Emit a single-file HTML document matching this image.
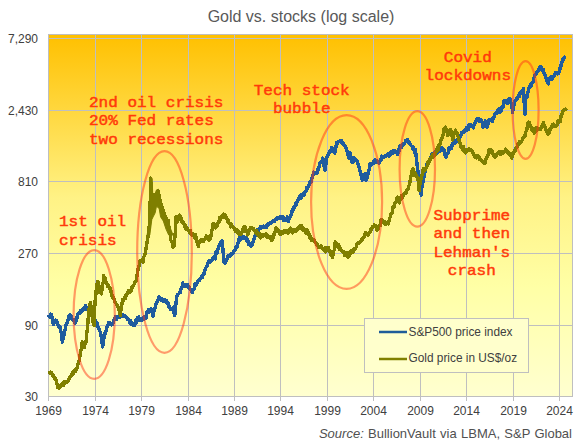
<!DOCTYPE html>
<html><head><meta charset="utf-8"><style>html,body{margin:0;padding:0;background:#fff;width:579px;height:444px;overflow:hidden;position:relative}</style></head>
<body><svg width="579" height="444" viewBox="0 0 579 444" style="position:absolute;left:0;top:0">
<defs><linearGradient id="bg" x1="0" y1="0" x2="0" y2="1">
<stop offset="0" stop-color="#FFC000"/>
<stop offset="0.45" stop-color="#FFF285"/>
<stop offset="0.7" stop-color="#FFFFA6"/>
<stop offset="1" stop-color="#FFFFD0"/>
</linearGradient></defs>
<rect x="48.5" y="34.5" width="524" height="362" fill="url(#bg)" stroke="#BFBFBF" stroke-width="1"/>
<line x1="48" y1="38.5" x2="572" y2="38.5" stroke="#BFBFBF" stroke-width="1"/>
<line x1="48" y1="110.5" x2="572" y2="110.5" stroke="#BFBFBF" stroke-width="1"/>
<line x1="48" y1="181.5" x2="572" y2="181.5" stroke="#BFBFBF" stroke-width="1"/>
<line x1="48" y1="253.5" x2="572" y2="253.5" stroke="#BFBFBF" stroke-width="1"/>
<line x1="48" y1="325.5" x2="572" y2="325.5" stroke="#BFBFBF" stroke-width="1"/>
<line x1="95.5" y1="34" x2="95.5" y2="396" stroke="#BFBFBF" stroke-width="1"/>
<line x1="141.5" y1="34" x2="141.5" y2="396" stroke="#BFBFBF" stroke-width="1"/>
<line x1="188.5" y1="34" x2="188.5" y2="396" stroke="#BFBFBF" stroke-width="1"/>
<line x1="234.5" y1="34" x2="234.5" y2="396" stroke="#BFBFBF" stroke-width="1"/>
<line x1="280.5" y1="34" x2="280.5" y2="396" stroke="#BFBFBF" stroke-width="1"/>
<line x1="327.5" y1="34" x2="327.5" y2="396" stroke="#BFBFBF" stroke-width="1"/>
<line x1="373.5" y1="34" x2="373.5" y2="396" stroke="#BFBFBF" stroke-width="1"/>
<line x1="420.5" y1="34" x2="420.5" y2="396" stroke="#BFBFBF" stroke-width="1"/>
<line x1="466.5" y1="34" x2="466.5" y2="396" stroke="#BFBFBF" stroke-width="1"/>
<line x1="513.5" y1="34" x2="513.5" y2="396" stroke="#BFBFBF" stroke-width="1"/>
<line x1="559.5" y1="34" x2="559.5" y2="396" stroke="#BFBFBF" stroke-width="1"/>
<line x1="48.5" y1="396" x2="48.5" y2="401" stroke="#BFBFBF" stroke-width="1"/>
<line x1="95.5" y1="396" x2="95.5" y2="401" stroke="#BFBFBF" stroke-width="1"/>
<line x1="141.5" y1="396" x2="141.5" y2="401" stroke="#BFBFBF" stroke-width="1"/>
<line x1="188.5" y1="396" x2="188.5" y2="401" stroke="#BFBFBF" stroke-width="1"/>
<line x1="234.5" y1="396" x2="234.5" y2="401" stroke="#BFBFBF" stroke-width="1"/>
<line x1="280.5" y1="396" x2="280.5" y2="401" stroke="#BFBFBF" stroke-width="1"/>
<line x1="327.5" y1="396" x2="327.5" y2="401" stroke="#BFBFBF" stroke-width="1"/>
<line x1="373.5" y1="396" x2="373.5" y2="401" stroke="#BFBFBF" stroke-width="1"/>
<line x1="420.5" y1="396" x2="420.5" y2="401" stroke="#BFBFBF" stroke-width="1"/>
<line x1="466.5" y1="396" x2="466.5" y2="401" stroke="#BFBFBF" stroke-width="1"/>
<line x1="513.5" y1="396" x2="513.5" y2="401" stroke="#BFBFBF" stroke-width="1"/>
<line x1="559.5" y1="396" x2="559.5" y2="401" stroke="#BFBFBF" stroke-width="1"/>
<g font-family="Liberation Sans" font-size="12" fill="#404040">
<text x="38" y="42.5" text-anchor="end">7,290</text>
<text x="38" y="114.5" text-anchor="end">2,430</text>
<text x="38" y="185.5" text-anchor="end">810</text>
<text x="38" y="257.5" text-anchor="end">270</text>
<text x="38" y="329.5" text-anchor="end">90</text>
<text x="38" y="400.5" text-anchor="end">30</text>
<text x="48.5" y="415" text-anchor="middle">1969</text>
<text x="95.5" y="415" text-anchor="middle">1974</text>
<text x="141.5" y="415" text-anchor="middle">1979</text>
<text x="188.5" y="415" text-anchor="middle">1984</text>
<text x="234.5" y="415" text-anchor="middle">1989</text>
<text x="280.5" y="415" text-anchor="middle">1994</text>
<text x="327.5" y="415" text-anchor="middle">1999</text>
<text x="373.5" y="415" text-anchor="middle">2004</text>
<text x="420.5" y="415" text-anchor="middle">2009</text>
<text x="466.5" y="415" text-anchor="middle">2014</text>
<text x="513.5" y="415" text-anchor="middle">2019</text>
<text x="559.5" y="415" text-anchor="middle">2024</text>
</g>
<text x="301" y="21.5" font-family="Liberation Sans" font-size="16" fill="#595959" text-anchor="middle">Gold vs. stocks (log scale)</text>
<text x="572" y="438" font-family="Liberation Sans" font-size="13" word-spacing="0.7" fill="#505050" text-anchor="end"><tspan font-style="italic">Source:</tspan> BullionVault via LBMA, S&amp;P Global</text>
<path d="M48.0,317.3 L48.8,316.5 L49.7,317.1 L50.5,314.1 L51.6,314.9 L52.5,318.8 L53.3,324.7 L54.0,321.7 L54.7,322.3 L55.4,320.1 L56.1,320.3 L56.9,321.0 L57.6,324.1 L58.4,325.4 L59.1,327.1 L59.9,326.8 L60.6,329.3 L61.5,335.0 L62.3,342.2 L63.1,338.2 L63.8,335.6 L64.6,330.6 L65.3,329.6 L66.0,324.6 L66.7,324.5 L67.4,321.3 L68.3,319.3 L69.3,315.3 L70.2,314.9 L71.1,315.6 L72.1,319.1 L73.0,320.3 L73.7,320.9 L74.5,319.6 L75.2,323.4 L75.9,321.6 L76.7,320.3 L77.5,313.9 L78.0,313.7 L78.8,312.7 L79.7,313.0 L80.6,310.6 L81.4,311.8 L82.2,309.2 L83.0,310.3 L83.9,307.8 L84.7,309.2 L85.5,305.7 L86.3,308.3 L87.2,307.4 L88.0,310.6 L88.8,310.4 L89.6,313.3 L90.4,311.0 L91.2,312.6 L92.0,311.9 L92.8,315.0 L93.7,315.4 L94.6,319.6 L95.4,320.2 L96.2,322.8 L97.1,323.2 L98.0,326.8 L98.8,328.1 L99.7,330.9 L100.5,332.2 L101.2,337.0 L101.9,341.1 L102.6,347.1 L103.6,339.1 L104.6,335.4 L105.4,331.6 L106.1,330.6 L106.9,327.2 L107.8,326.2 L108.7,322.2 L109.6,322.3 L110.5,323.2 L111.4,324.8 L112.3,324.4 L113.2,323.2 L114.1,319.8 L115.0,318.2 L115.8,316.4 L116.6,319.3 L117.5,317.0 L118.3,317.0 L119.1,316.0 L119.9,317.1 L120.7,315.7 L121.5,316.3 L122.3,314.9 L123.1,316.7 L123.9,315.1 L124.7,316.5 L125.6,316.3 L126.4,318.0 L127.2,318.2 L128.0,319.8 L128.8,319.6 L129.6,322.2 L130.4,320.5 L131.2,324.3 L132.1,322.6 L133.0,324.6 L133.9,325.7 L134.7,325.0 L135.5,320.9 L136.4,322.4 L137.2,317.8 L138.0,317.3 L138.8,316.7 L139.6,320.7 L140.5,318.7 L141.3,320.0 L142.1,319.6 L142.8,319.9 L143.6,317.0 L144.3,319.0 L145.0,316.4 L145.9,318.4 L146.8,312.4 L147.7,311.8 L148.5,309.8 L149.4,312.2 L150.2,309.3 L151.1,308.9 L152.1,311.5 L153.1,316.2 L154.0,311.2 L154.9,308.8 L155.8,304.6 L156.7,302.8 L157.5,300.7 L158.3,300.0 L159.2,296.7 L160.1,298.4 L161.0,298.7 L161.9,300.7 L162.8,299.2 L163.6,301.7 L164.5,299.6 L165.3,300.9 L166.2,300.4 L167.1,303.4 L168.0,303.0 L168.9,307.5 L169.8,306.9 L170.7,309.5 L171.6,308.4 L172.5,308.7 L173.4,307.1 L174.1,313.0 L174.7,315.4 L175.4,309.4 L176.1,302.4 L176.8,296.6 L177.7,294.5 L178.6,294.1 L179.5,292.4 L180.3,292.5 L181.2,287.9 L182.0,287.0 L182.8,283.0 L183.6,284.9 L184.4,284.7 L185.3,286.7 L186.1,285.1 L186.9,286.4 L187.8,284.9 L188.6,287.4 L189.5,287.0 L190.3,289.8 L191.3,290.5 L192.3,292.5 L193.2,290.1 L194.1,289.1 L195.0,283.3 L195.8,285.3 L196.6,283.0 L197.5,283.0 L198.3,280.3 L199.1,280.8 L199.9,278.6 L200.7,278.4 L201.5,276.5 L202.3,277.5 L203.1,274.1 L203.8,274.6 L204.6,270.5 L205.3,269.9 L206.1,267.1 L206.8,266.5 L207.6,263.8 L208.3,262.4 L209.1,261.0 L209.9,262.7 L210.8,260.7 L211.6,260.7 L212.4,258.7 L213.3,259.0 L214.3,256.3 L215.2,258.9 L216.0,252.0 L216.9,253.9 L217.8,249.7 L218.6,247.9 L219.5,244.6 L220.3,244.4 L221.2,241.5 L222.1,241.0 L222.8,247.8 L223.5,257.0 L224.2,262.9 L225.0,263.1 L225.9,260.2 L226.8,260.2 L227.6,256.1 L228.4,256.4 L229.3,255.1 L230.1,255.9 L231.0,253.9 L231.8,254.8 L232.6,253.1 L233.4,252.5 L234.3,250.6 L235.1,250.1 L235.9,246.9 L236.7,247.9 L237.6,243.5 L238.4,242.8 L239.3,237.9 L240.1,240.4 L240.9,237.5 L241.7,238.0 L242.6,237.1 L243.4,238.7 L244.2,236.6 L245.1,238.2 L245.9,237.3 L246.8,240.5 L247.7,240.0 L248.5,244.5 L249.4,243.2 L250.2,245.6 L251.1,246.3 L251.8,245.5 L252.5,242.0 L253.2,241.8 L253.9,239.0 L254.8,237.1 L255.7,232.7 L256.6,231.0 L257.4,229.5 L258.3,230.8 L259.1,228.1 L260.0,228.1 L260.8,226.3 L261.6,228.0 L262.4,226.8 L263.2,227.7 L263.9,226.2 L264.7,226.9 L265.5,226.2 L266.3,227.4 L267.1,225.0 L267.9,225.4 L268.7,223.4 L269.4,223.7 L270.2,222.8 L271.0,223.1 L271.8,221.6 L272.6,222.0 L273.4,220.6 L274.2,221.7 L274.9,219.5 L275.7,219.7 L276.5,218.0 L277.3,219.3 L278.1,217.9 L278.8,218.3 L279.6,216.9 L280.3,218.7 L281.1,216.4 L281.9,217.9 L282.7,217.0 L283.5,220.6 L284.3,218.2 L285.1,220.3 L285.9,218.5 L286.7,219.9 L287.5,216.9 L288.3,221.6 L289.1,218.7 L289.9,217.8 L290.7,215.4 L291.5,214.4 L292.3,209.7 L293.1,210.2 L293.9,207.0 L294.6,208.0 L295.4,203.9 L296.1,205.3 L296.9,202.1 L297.7,201.4 L298.5,198.6 L299.3,198.6 L300.1,195.7 L300.9,198.2 L301.7,194.7 L302.5,196.0 L303.3,193.9 L304.1,195.0 L305.0,192.1 L305.9,191.7 L306.7,187.3 L307.6,188.3 L308.4,185.2 L309.3,184.9 L310.1,181.3 L311.0,182.7 L311.8,178.1 L312.7,177.0 L313.6,172.1 L314.5,173.8 L315.2,172.5 L315.9,172.8 L316.6,171.9 L317.3,173.2 L318.2,168.4 L319.1,167.1 L320.0,162.8 L320.7,162.8 L321.4,161.2 L322.1,161.2 L322.8,158.1 L323.5,164.2 L324.2,166.3 L324.9,170.6 L325.6,165.7 L326.3,162.7 L327.0,156.6 L327.9,155.6 L328.8,152.9 L329.7,151.9 L330.4,150.2 L331.1,151.8 L331.8,147.6 L332.5,148.3 L333.2,149.8 L333.9,151.9 L334.6,153.2 L335.6,149.1 L336.6,142.8 L337.5,143.6 L338.5,141.3 L339.4,141.6 L340.1,140.2 L340.8,142.3 L341.5,140.7 L342.2,143.1 L343.1,142.8 L344.0,145.6 L344.9,145.2 L345.6,148.2 L346.3,148.6 L347.0,150.8 L347.7,152.0 L348.4,157.3 L349.1,158.4 L350.0,152.3 L350.7,155.3 L351.4,159.5 L352.1,162.4 L353.1,161.8 L354.1,158.1 L355.0,160.1 L356.0,159.6 L356.9,160.4 L357.6,162.2 L358.3,164.9 L359.0,166.4 L359.7,170.4 L360.6,172.5 L361.5,177.0 L362.4,180.1 L363.1,178.8 L363.8,176.0 L364.5,174.4 L365.2,174.0 L365.9,180.5 L366.6,179.5 L367.5,177.4 L368.4,170.5 L369.3,170.0 L370.2,163.6 L371.1,165.0 L371.9,163.2 L372.8,162.8 L373.5,161.2 L374.2,163.3 L374.9,159.5 L375.6,160.1 L376.5,160.5 L377.3,162.0 L378.1,161.6 L379.0,163.6 L379.9,161.3 L380.8,160.5 L381.6,156.2 L382.5,156.9 L383.4,156.5 L384.2,157.3 L385.0,155.5 L385.9,156.2 L386.7,155.0 L387.6,155.3 L388.4,153.3 L389.3,156.0 L390.1,152.6 L390.9,154.9 L391.7,151.5 L392.6,153.3 L393.4,150.3 L394.2,151.5 L395.1,150.8 L395.9,152.8 L396.8,151.9 L397.7,154.4 L398.6,149.8 L399.4,150.7 L400.2,145.3 L401.1,147.8 L402.0,144.5 L402.9,145.2 L403.7,143.6 L404.6,143.8 L405.5,140.9 L406.4,141.4 L407.3,139.3 L408.0,142.6 L408.7,141.5 L409.4,143.2 L410.1,143.8 L411.0,145.5 L411.9,146.3 L412.8,148.7 L413.6,147.1 L414.5,152.1 L415.3,149.5 L416.1,155.8 L416.9,162.6 L417.7,170.3 L418.4,172.2 L419.2,175.4 L420.2,184.1 L421.2,195.2 L422.2,183.3 L422.9,182.2 L423.6,178.2 L424.3,175.8 L425.3,170.6 L426.3,166.3 L427.1,163.9 L427.8,163.6 L428.6,161.6 L429.3,161.7 L430.3,157.8 L431.3,156.3 L432.1,154.0 L433.0,154.6 L433.8,153.0 L434.7,154.2 L435.5,151.4 L436.3,154.3 L437.1,152.1 L438.0,152.2 L438.8,150.1 L439.6,151.6 L440.5,148.9 L441.3,150.7 L442.1,148.1 L443.0,148.6 L443.9,150.0 L444.8,154.8 L445.7,157.1 L446.5,156.2 L447.4,153.1 L448.2,152.5 L449.0,148.0 L449.8,149.0 L450.6,147.3 L451.5,148.4 L452.3,144.0 L453.1,144.4 L453.8,142.9 L454.6,143.4 L455.3,140.9 L456.1,142.6 L456.8,140.1 L457.5,140.2 L458.3,138.4 L459.0,137.8 L459.8,136.1 L460.6,136.7 L461.5,132.9 L462.3,133.3 L463.1,132.0 L463.9,132.2 L464.6,130.7 L465.4,131.2 L466.2,127.9 L467.0,129.9 L467.7,128.4 L468.5,129.7 L469.2,124.3 L470.0,124.5 L470.9,124.9 L471.7,126.7 L472.5,126.1 L473.4,127.8 L474.1,124.7 L474.9,123.4 L475.6,121.0 L476.4,120.5 L477.1,118.7 L477.9,120.2 L478.8,118.4 L479.6,121.2 L480.4,119.4 L481.3,120.7 L482.1,122.3 L483.0,127.1 L483.7,124.5 L484.5,124.1 L485.2,120.9 L486.0,125.8 L486.9,127.1 L487.6,125.3 L488.4,122.4 L489.1,120.0 L490.0,119.6 L490.8,120.1 L491.6,119.0 L492.5,121.2 L493.2,117.5 L494.0,117.1 L494.8,114.2 L495.5,114.1 L496.2,112.1 L497.0,113.1 L497.8,109.7 L498.5,111.7 L499.2,108.9 L500.0,112.6 L500.8,108.1 L501.5,110.2 L502.4,106.6 L503.2,106.6 L504.0,100.7 L504.9,100.2 L505.7,100.2 L506.4,102.6 L507.2,103.3 L507.9,103.7 L508.6,99.1 L509.3,100.8 L510.0,98.4 L510.9,102.8 L511.7,105.0 L512.6,112.3 L513.4,107.2 L514.2,104.6 L515.0,100.5 L515.9,99.7 L516.7,98.0 L517.5,98.8 L518.4,95.8 L519.2,96.7 L520.1,92.8 L520.9,93.5 L521.8,90.6 L522.7,92.0 L523.6,88.6 L524.3,104.9 L525.0,114.7 L525.6,100.8 L526.2,96.1 L526.9,97.5 L527.6,93.2 L528.3,91.6 L529.0,88.4 L529.7,86.3 L530.5,84.4 L531.3,86.3 L532.1,82.9 L532.9,82.8 L533.6,78.2 L534.4,76.7 L535.2,74.5 L536.1,73.9 L536.9,72.4 L537.8,71.9 L538.5,69.6 L539.2,69.8 L539.9,66.8 L540.6,66.5 L541.5,67.2 L542.4,70.3 L543.3,69.3 L544.0,72.8 L544.7,73.3 L545.4,77.1 L546.1,77.7 L546.8,81.4 L547.5,81.0 L548.2,83.9 L549.2,78.7 L550.2,77.5 L551.1,76.3 L552.1,78.9 L553.0,77.4 L553.9,76.2 L554.9,73.7 L555.8,72.2 L556.7,72.3 L557.6,73.9 L558.5,73.3 L559.2,71.2 L559.9,68.3 L560.6,68.5 L561.3,62.9 L562.0,62.5 L562.7,59.1 L563.6,59.4 L564.5,57.2 L565.4,56.0" fill="none" stroke="#1F5C9E" stroke-width="3.4" stroke-linejoin="round" shape-rendering="crispEdges"/>
<path d="M48.7,374.1 L49.7,372.2 L50.7,372.0 L51.6,372.8 L52.5,375.6 L53.4,375.7 L54.3,378.2 L55.2,377.6 L56.1,380.3 L56.8,382.7 L57.5,387.1 L58.4,386.3 L59.3,388.1 L60.2,385.1 L61.2,385.9 L62.2,384.1 L63.1,385.8 L64.0,381.3 L64.9,383.6 L65.8,381.9 L66.7,382.5 L67.6,381.9 L68.5,380.7 L69.4,377.6 L70.3,376.8 L71.2,375.0 L72.1,375.0 L73.0,371.3 L73.8,373.0 L74.7,370.2 L75.6,371.3 L76.4,369.0 L77.1,367.8 L77.8,364.9 L78.8,362.0 L79.8,357.3 L80.5,351.4 L81.4,348.9 L82.1,342.0 L83.1,342.8 L84.1,347.7 L85.1,343.8 L86.1,341.9 L86.8,333.0 L87.5,327.9 L88.5,314.2 L89.5,305.7 L90.6,302.4 L91.5,314.4 L92.2,316.8 L92.9,321.6 L93.6,322.4 L94.2,325.4 L94.9,302.6 L95.6,297.5 L96.3,289.0 L96.8,284.3 L97.5,281.9 L98.3,282.0 L98.9,285.5 L99.6,292.7 L100.5,292.1 L101.5,294.0 L102.5,285.4 L103.5,281.1 L103.7,275.2 L104.5,279.3 L105.3,277.7 L106.1,283.6 L106.9,283.8 L107.8,286.6 L108.7,285.3 L109.6,288.9 L110.6,288.1 L111.6,295.3 L112.3,295.4 L113.0,298.8 L113.7,297.8 L114.7,302.2 L115.7,302.8 L116.6,304.6 L117.5,305.2 L118.4,308.8 L119.4,310.4 L120.4,315.7 L121.1,308.4 L121.8,304.7 L122.7,299.8 L123.6,300.5 L124.5,297.0 L125.4,298.4 L126.3,294.2 L127.2,294.4 L128.1,291.1 L129.0,292.8 L129.9,291.1 L130.8,291.9 L131.6,287.0 L132.5,287.7 L133.3,285.2 L134.1,284.4 L134.9,282.0 L135.8,281.5 L136.6,278.7 L137.5,272.1 L138.4,267.3 L139.3,265.3 L140.2,260.5 L141.1,261.5 L142.0,259.5 L142.9,262.1 L143.8,256.9 L144.7,255.8 L145.6,251.0 L146.6,245.2 L147.6,238.6 L148.2,235.7 L148.9,228.4 L149.9,220.0 L150.6,178.1 L151.2,189.2 L151.9,196.2 L152.6,197.7 L153.3,194.7 L154.3,199.5 L155.3,202.2 L156.2,198.5 L157.1,193.6 L158.0,190.5 L158.7,193.3 L159.4,197.7 L160.4,201.0 L161.4,206.0 L162.4,207.1 L163.4,212.9 L164.4,213.5 L165.4,217.8 L166.3,218.2 L167.2,220.0 L168.1,220.3 L169.0,227.2 L169.9,231.7 L170.9,240.5 L171.9,241.2 L172.9,247.0 L173.9,246.7 L174.6,240.1 L175.3,231.9 L176.2,216.5 L176.9,217.8 L177.6,221.8 L178.6,216.0 L179.6,215.1 L180.6,216.2 L181.6,222.1 L182.3,221.6 L183.0,222.3 L183.7,222.3 L184.4,226.2 L185.2,224.9 L186.1,229.5 L187.0,228.0 L187.9,230.3 L188.8,230.1 L189.7,232.7 L190.5,230.8 L191.3,235.0 L192.2,233.4 L193.0,235.2 L193.9,235.1 L194.8,238.0 L195.6,234.8 L196.5,241.7 L197.4,241.6 L198.3,246.7 L199.3,241.6 L200.3,240.7 L201.2,239.4 L202.1,241.1 L203.0,241.0 L203.8,241.1 L204.6,239.2 L205.5,238.5 L206.3,235.8 L207.1,237.7 L207.9,236.5 L208.8,240.2 L209.7,236.2 L210.5,238.8 L211.4,233.0 L212.3,228.9 L213.2,223.5 L214.0,225.2 L214.8,224.9 L215.7,228.0 L216.5,225.3 L217.3,225.7 L218.2,221.9 L219.1,222.1 L219.9,217.3 L220.7,219.4 L221.5,216.2 L222.4,217.7 L223.2,214.1 L224.0,214.2 L224.8,214.5 L225.7,218.1 L226.6,217.0 L227.4,221.3 L228.2,219.7 L229.0,223.5 L229.8,223.3 L230.6,226.8 L231.4,224.2 L232.2,226.6 L233.0,226.6 L233.9,228.5 L234.7,228.4 L235.5,231.3 L236.4,229.4 L237.2,232.6 L238.1,230.6 L239.0,234.7 L239.8,233.3 L240.6,234.7 L241.4,233.2 L242.3,231.5 L243.3,228.2 L244.2,227.0 L245.1,227.0 L245.9,231.7 L246.8,230.7 L247.7,235.0 L248.5,230.7 L249.4,230.5 L250.2,228.1 L251.1,227.4 L251.9,227.3 L252.7,229.2 L253.6,228.5 L254.4,230.8 L255.2,230.5 L256.0,233.8 L256.8,231.0 L257.6,234.1 L258.4,233.0 L259.2,236.6 L260.0,233.9 L260.8,237.9 L261.6,234.3 L262.4,236.7 L263.2,235.1 L263.9,235.1 L264.7,234.7 L265.5,235.2 L266.3,234.0 L267.1,237.1 L267.9,235.9 L268.7,237.3 L269.4,236.4 L270.2,238.5 L271.0,237.7 L271.8,240.5 L272.6,236.5 L273.5,237.3 L274.3,232.6 L275.2,232.1 L276.0,227.9 L276.8,229.7 L277.6,229.6 L278.5,231.6 L279.3,230.9 L280.1,234.8 L280.9,232.1 L281.8,233.4 L282.6,231.5 L283.4,232.8 L284.3,230.6 L285.1,232.8 L285.9,230.8 L286.6,232.1 L287.4,230.3 L288.1,233.2 L288.9,230.1 L289.6,231.1 L290.4,228.1 L291.1,230.9 L291.9,229.9 L292.7,232.8 L293.6,229.5 L294.4,230.9 L295.2,230.2 L296.0,231.7 L296.8,229.0 L297.6,229.7 L298.5,227.6 L299.3,228.5 L300.1,225.4 L300.9,227.6 L301.8,225.8 L302.6,230.1 L303.4,228.7 L304.2,230.8 L305.1,230.3 L305.9,233.3 L306.8,229.6 L307.7,233.6 L308.6,232.0 L309.5,237.2 L310.4,236.3 L311.3,240.1 L312.2,238.8 L313.1,240.4 L313.9,239.6 L314.8,242.4 L315.6,242.2 L316.5,244.2 L317.4,244.5 L318.3,247.0 L319.2,246.6 L320.1,247.7 L321.0,246.0 L321.9,248.3 L322.8,248.1 L323.7,250.0 L324.6,248.2 L325.5,252.0 L326.4,247.8 L327.2,250.3 L328.1,247.2 L328.9,251.3 L329.8,250.6 L330.7,255.0 L331.6,254.7 L332.5,257.3 L333.4,251.9 L334.3,249.9 L335.2,241.9 L336.1,244.3 L337.0,244.0 L337.9,247.2 L338.8,244.9 L339.6,249.6 L340.4,248.5 L341.3,250.7 L342.1,250.9 L343.0,252.2 L343.8,251.4 L344.6,255.4 L345.5,252.5 L346.3,255.4 L347.1,253.1 L348.0,257.0 L348.9,253.0 L349.7,255.1 L350.5,251.2 L351.4,252.1 L352.2,250.4 L353.0,252.7 L353.9,249.1 L354.7,249.6 L355.5,248.5 L356.1,247.4 L356.8,244.0 L357.6,243.9 L358.5,242.3 L359.3,242.8 L360.1,241.2 L361.0,241.1 L361.8,239.1 L362.6,239.4 L363.5,237.7 L364.5,236.3 L365.5,232.6 L366.4,233.6 L367.3,234.2 L368.2,235.3 L369.1,233.3 L370.0,231.8 L370.9,228.5 L371.8,229.2 L372.6,226.3 L373.4,226.8 L374.3,224.9 L375.1,226.6 L376.0,226.1 L376.9,230.3 L377.7,229.1 L378.5,228.6 L379.3,225.1 L380.2,225.5 L381.0,219.8 L381.8,222.2 L382.6,220.0 L383.5,222.9 L384.3,221.6 L385.1,224.6 L386.0,222.9 L386.8,223.6 L387.6,222.6 L388.5,224.0 L389.4,218.9 L390.3,217.0 L391.2,213.6 L392.2,212.8 L393.2,206.5 L394.1,206.9 L395.0,202.8 L395.9,202.4 L396.6,198.7 L397.3,197.1 L398.3,198.3 L399.3,202.9 L400.0,199.8 L400.7,199.7 L401.4,195.3 L402.3,198.1 L403.2,195.2 L404.1,194.2 L405.0,192.6 L406.0,193.4 L407.0,189.5 L407.9,189.2 L408.7,185.8 L409.6,184.7 L410.4,179.1 L411.1,175.7 L412.1,170.5 L413.1,169.1 L413.9,171.2 L414.6,175.2 L415.4,173.7 L416.1,174.5 L416.8,176.6 L417.5,179.2 L418.2,180.5 L419.2,190.6 L419.9,184.2 L420.7,180.3 L421.5,175.7 L422.4,174.7 L423.2,169.0 L424.0,171.2 L424.8,169.1 L425.5,169.6 L426.3,168.1 L427.1,166.4 L427.8,162.6 L428.6,164.1 L429.3,159.5 L430.1,160.5 L430.9,157.6 L431.6,158.0 L432.4,155.0 L433.3,156.8 L434.2,153.9 L435.0,155.6 L435.8,152.1 L436.6,151.5 L437.4,147.5 L438.2,150.1 L439.1,144.9 L439.9,144.7 L440.8,140.5 L441.6,140.0 L442.5,136.3 L443.3,133.8 L444.1,128.9 L445.0,127.9 L445.7,127.0 L446.4,131.8 L447.1,131.9 L447.8,135.7 L448.5,131.9 L449.2,131.8 L449.9,130.4 L450.6,129.5 L451.6,132.1 L452.6,140.1 L453.5,135.9 L454.5,133.4 L455.4,130.1 L456.2,132.0 L456.9,132.6 L457.7,135.7 L458.5,137.4 L459.2,140.9 L460.0,143.0 L460.8,147.4 L461.6,147.8 L462.6,149.9 L463.6,146.8 L464.6,151.6 L465.5,152.9 L466.3,152.3 L467.1,149.6 L467.9,150.5 L468.7,148.9 L469.5,150.2 L470.3,149.5 L471.1,150.7 L471.9,150.2 L472.8,152.8 L473.6,154.1 L474.4,156.5 L475.3,156.9 L476.2,157.8 L477.1,155.2 L478.0,156.9 L478.9,156.7 L479.7,159.7 L480.5,159.4 L481.4,161.0 L482.3,161.3 L483.2,162.9 L484.1,162.7 L484.9,163.7 L485.8,158.8 L486.6,158.3 L487.4,155.0 L488.2,155.0 L489.1,149.8 L489.9,151.9 L490.8,149.4 L491.6,152.4 L492.5,151.2 L493.4,156.1 L494.2,156.4 L495.0,157.6 L495.8,154.6 L496.6,155.1 L497.4,153.3 L498.2,153.0 L499.0,151.5 L499.8,154.3 L500.7,152.1 L501.5,153.8 L502.3,151.5 L503.1,152.9 L504.0,151.4 L504.9,151.6 L505.7,149.1 L506.6,151.2 L507.4,151.2 L508.2,153.3 L509.1,153.0 L510.0,155.5 L510.9,153.7 L511.8,158.3 L512.7,154.7 L513.6,153.2 L514.5,150.6 L515.3,151.2 L516.1,147.3 L516.9,147.3 L517.7,144.6 L518.5,144.4 L519.3,142.0 L520.1,143.5 L521.0,141.2 L521.8,141.1 L522.6,138.7 L523.4,138.0 L524.2,135.9 L525.1,136.2 L525.9,131.6 L526.8,129.8 L527.7,123.1 L528.6,122.0 L529.5,122.9 L530.5,126.3 L531.4,127.4 L532.3,130.7 L533.2,128.2 L534.1,133.0 L534.9,129.5 L535.8,131.8 L536.6,127.7 L537.4,130.1 L538.3,128.7 L539.2,129.7 L540.1,129.8 L541.0,128.7 L541.8,125.9 L542.6,125.6 L543.5,122.5 L544.3,125.9 L545.1,127.1 L545.9,129.7 L546.6,130.6 L547.4,133.5 L548.2,134.0 L549.0,132.8 L549.8,128.7 L550.7,129.3 L551.5,126.5 L552.3,125.2 L553.1,124.2 L553.9,126.3 L554.8,125.2 L555.6,126.1 L556.4,125.5 L557.2,125.2 L558.0,120.8 L558.8,122.4 L559.6,120.1 L560.4,121.7 L561.3,114.1 L562.2,114.2 L563.1,111.0 L564.0,110.7 L564.8,109.4 L565.6,109.4 L566.5,108.5" fill="none" stroke="#7F7F00" stroke-width="3.4" stroke-linejoin="round" shape-rendering="crispEdges"/>
<path d="M147.1,235 L149.1,223.6 L150,216.9 L150.4,178.4 L152.2,178.4 L152.7,193.9 L154.5,195.3 L156.5,189.9 L158.5,189.2 L159.9,199.3 L162.6,207.4 L165.3,216.9 L168,219.6 L170.7,229.1 L173,235 L168.7,235 L166,229.1 L163.3,221 L160.6,216.9 L159.2,208.8 L156.5,206.1 L155.2,212.8 L153.1,216.9 L151.8,219.6 L149.8,235Z" fill="#7F7F00" stroke="#7F7F00" stroke-width="1"/>

<g fill="none" stroke="#FF3818" stroke-opacity="0.5" stroke-width="2.2">
<ellipse cx="94.2" cy="314.5" rx="20.6" ry="64.4"/>
<ellipse cx="164.5" cy="252" rx="27.3" ry="100.8"/>
<ellipse cx="346.6" cy="202" rx="35.5" ry="86.9"/>
<ellipse cx="417.3" cy="168.9" rx="17.7" ry="57.7"/>
<ellipse cx="525.6" cy="110" rx="13" ry="48.9"/>
</g>
<g font-family="Liberation Mono" font-size="16" fill="#FF3A0A" stroke="#FF3A0A" stroke-width="0.5">
<text transform="translate(59 226.1) scale(1 0.9)" text-anchor="start" xml:space="preserve">1st oil</text>
<text transform="translate(59 244.6) scale(1 0.9)" text-anchor="start" xml:space="preserve">crisis</text>
<text transform="translate(89 106.8) scale(1 0.9)" text-anchor="start" xml:space="preserve">2nd oil crisis</text>
<text transform="translate(89 125.3) scale(1 0.9)" text-anchor="start" xml:space="preserve">20% Fed rates</text>
<text transform="translate(89 143.8) scale(1 0.9)" text-anchor="start" xml:space="preserve">two recessions</text>
<text transform="translate(301.7 94.7) scale(1 0.9)" text-anchor="middle" xml:space="preserve">Tech stock</text>
<text transform="translate(301.7 113.2) scale(1 0.9)" text-anchor="middle" xml:space="preserve">bubble</text>
<text transform="translate(467.8 61.5) scale(1 0.9)" text-anchor="middle" xml:space="preserve">Covid</text>
<text transform="translate(467.8 80.0) scale(1 0.9)" text-anchor="middle" xml:space="preserve">lockdowns</text>
<text transform="translate(471.8 219.8) scale(1 0.9)" text-anchor="middle" xml:space="preserve">Subprime</text>
<text transform="translate(471.8 238.3) scale(1 0.9)" text-anchor="middle" xml:space="preserve">and then</text>
<text transform="translate(471.8 256.8) scale(1 0.9)" text-anchor="middle" xml:space="preserve">Lehman's</text>
<text transform="translate(471.8 275.3) scale(1 0.9)" text-anchor="middle" xml:space="preserve">crash</text>
</g>
<rect x="364.5" y="318.5" width="164" height="54" fill="#FFFFCC" stroke="#BFBFBF" stroke-width="1"/>
<line x1="379" y1="332" x2="407" y2="332" stroke="#1F5C99" stroke-width="2.5"/>
<line x1="379" y1="359" x2="407" y2="359" stroke="#808000" stroke-width="2.5"/>
<g font-family="Liberation Sans" font-size="11.85" fill="#404040">
<text x="408.5" y="335.6">S&amp;P500 price index</text>
<text x="408.5" y="362.2">Gold price in US$/oz</text>
</g>
</svg></body></html>
